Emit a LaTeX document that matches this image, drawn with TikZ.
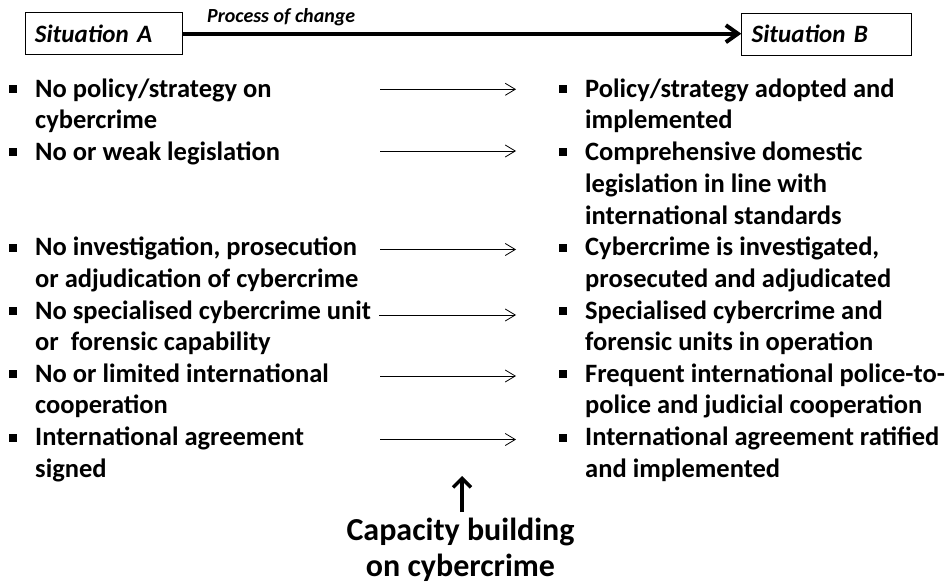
\documentclass[tikz,border=0pt]{standalone}
\usepackage{fontspec}
\setmainfont{Carlito}
\usetikzlibrary{arrows.meta}
% every item starts with a strut so that its top lies 22pt above the first baseline
\newcommand{\itemstrut}{\rule{0pt}{22pt}}
\begin{document}
\begin{tikzpicture}[x=1pt,y=-1pt,
  item/.style={anchor=north west, inner sep=0pt, align=left,
    font=\bfseries\fontsize{26.5}{31.7}\selectfont},
  bul/.style={fill=black, minimum size=8pt, inner sep=0pt},
  sitbox/.style={draw, line width=0.8pt, minimum height=41.7pt, inner ysep=0pt,
    inner xsep=10pt, align=left, font=\bfseries\itshape\fontsize{25}{28}\selectfont},
  mainarrow/.style={line width=4pt, -{Straight Barb[length=12pt,width=17pt]}},
  thinarrow/.style={line width=0.8pt, -{Straight Barb[length=10pt,width=12pt]}},
  uparrow/.style={line width=3.5pt, -{Straight Barb[length=9pt,width=18pt]}}]
\useasboundingbox (0,0) rectangle (949,586);

% Situation boxes and the process arrow
\node[sitbox, text width=137.7pt] (sa) at (103.8,33.7) {Situation A};
\node[sitbox, text width=150pt] (sb) at (826.7,34.2) {Situation B};
\draw[mainarrow] (sa.east) -- (sa.east -| sb.west);
\node[anchor=base west, inner sep=0pt, font=\bfseries\itshape\fontsize{20}{24}\selectfont]
  (proc) at (207,23) {Process of change};

% Starting situation (y = first baseline - 22)
\node[item] (l1) at (35,75)    {\itemstrut No policy/strategy on\\cybercrime};
\node[item] (l2) at (35,138.4) {\itemstrut No or weak legislation};
\node[item] (l3) at (35,233.5) {\itemstrut No investigation, prosecution\\or adjudication of cybercrime};
\node[item] (l4) at (35,297)   {\itemstrut No specialised cybercrime unit\\or~~forensic capability};
\node[item] (l5) at (35,360)   {\itemstrut No or limited international\\cooperation};
\node[item] (l6) at (35,423.7) {\itemstrut International agreement\\signed};

% Target situation
\node[item] (r1) at (585,75)    {\itemstrut Policy/strategy adopted and\\implemented};
\node[item] (r2) at (585,138.4) {\itemstrut Comprehensive domestic\\legislation in line with\\international standards};
\node[item] (r3) at (585,233.5) {\itemstrut Cybercrime is investigated,\\prosecuted and adjudicated};
\node[item] (r4) at (585,297)   {\itemstrut Specialised cybercrime and\\forensic units in operation};
\node[item] (r5) at (585,360)   {\itemstrut Frequent international police-to-\\police and judicial cooperation};
\node[item] (r6) at (585,423.7) {\itemstrut International agreement ratified\\and implemented};

% Bullets, level with the first line of each item
\foreach \n in {l1,l2,l3,l4,l5,l6,r1,r2,r3,r4,r5,r6}
  \node[bul] (b\n) at ([xshift=-22.5pt,yshift=-14pt]\n.north west) {};

% Transition arrows
\coordinate (s1) at (380,89.3);  \coordinate (e1) at (516,89.3);
\coordinate (s2) at (380,151);   \coordinate (e2) at (516,151);
\coordinate (s3) at (380,249.5); \coordinate (e3) at (516,249.5);
\coordinate (s4) at (379,315);   \coordinate (e4) at (516,315);
\coordinate (s5) at (380,376);   \coordinate (e5) at (516,376);
\coordinate (s6) at (380,439.5); \coordinate (e6) at (516,439.5);
\foreach \i in {1,...,6}
  \draw[thinarrow] (s\i) -- (e\i);

% Capacity building (base anchor = baseline of the last line)
\node[anchor=base, inner sep=0pt, align=center,
  font=\bfseries\fontsize{32}{36.7}\selectfont] (cap) at (460.5,576.7)
  {Capacity building\\on cybercrime};
\coordinate (capfoot) at (462,512);
\coordinate (captip) at (462,476);
\draw[uparrow] (capfoot) -- (captip);
\end{tikzpicture}
\end{document}
